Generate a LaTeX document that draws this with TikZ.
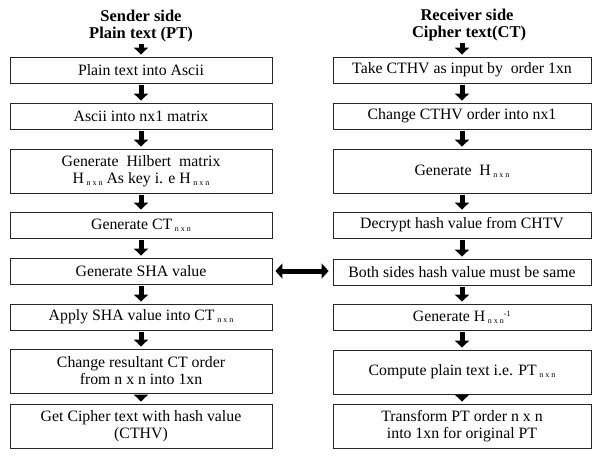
\documentclass[tikz,border=0pt]{standalone}
\usepackage{fontspec}
\setmainfont{Liberation Serif}
\usetikzlibrary{arrows.meta}
\newcommand{\nxn}{\,\raisebox{-0.25ex}{\fontsize{8}{9}\selectfont n x n}}
\tikzset{
  procbox/.style={draw=black!85, line width=0.8pt, minimum height=26pt, align=center,
    inner sep=0pt, font=\fontsize{15.8}{17}\selectfont},
  lbox/.style={procbox, minimum width=262pt},
  rbox/.style={procbox, minimum width=258pt},
  headtext/.style={align=center, font=\fontsize{16.5}{17}\selectfont\bfseries, inner sep=0pt},
  fatarrow/.style={line width=5pt, -{Triangle[length=7pt,width=14pt]}, shorten <=2pt, shorten >=2pt}
}
\begin{document}
\begin{tikzpicture}[x=1pt,y=-1pt]
\useasboundingbox (0,0) rectangle (593,459);
% sender side
\node [headtext] (senderhd) at (141,26) {Sender side\\Plain text (PT)};
\node [lbox] (s1) at (141,70) {Plain text into Ascii};
\node [lbox] (s2) at (141,116) {Ascii into nx1 matrix};
\node [lbox, minimum height=44pt] (s3) at (141,171) {Generate\ \ Hilbert\ \ matrix\\H\nxn\ As key i. e H\nxn};
\node [lbox] (s4) at (141,225) {Generate CT\nxn};
\node [lbox] (s5) at (141,271) {Generate SHA value};
\node [lbox] (s6) at (141,317) {Apply SHA value into CT\nxn};
\node [lbox, minimum height=44pt] (s7) at (141,371) {Change resultant CT order\\ from n x n into 1xn};
\node [lbox, minimum height=44pt] (s8) at (141,426) {Get Cipher text with hash value\\(CTHV)};
% receiver side
\node [headtext] (receiverhd) at (467,25) {Receiver side\\\ Cipher text(CT)};
\node [rbox] (r1) at (462,70) {Take CTHV as input by\ \ order 1xn};
\node [rbox] (r2) at (462,116) {Change CTHV order into nx1};
\node [rbox, minimum height=44pt] (r3) at (462,171) {Generate\ \ H\nxn};
\node [rbox] (r4) at (462,225) {Decrypt hash value from CHTV};
\node [rbox] (r5) at (462,272) {Both sides hash value must be same};
\node [rbox] (r6) at (462,317) {Generate H\nxn\textsuperscript{\fontsize{8}{9}\selectfont -1}};
\node [rbox, minimum height=44pt] (r7) at (462,372) {Compute plain text i.e. PT\nxn};
\node [rbox, minimum height=44pt] (r8) at (462,426) {Transform PT order n x n\\into 1xn for original PT};
% arrows
\draw [fatarrow] (senderhd.south) -- (s1.north);
\draw [fatarrow] (receiverhd.south -| r1.north) -- (r1.north);
\foreach \a/\b in {1/2,2/3,3/4,4/5,5/6,6/7,7/8} {
  \draw [fatarrow] (s\a.south) -- (s\b.north);
  \draw [fatarrow] (r\a.south) -- (r\b.north);
}
\draw [line width=5pt, {Triangle[length=7pt,width=15pt]}-{Triangle[length=7pt,width=15pt]},
  shorten <=3pt, shorten >=4pt] (s5.east) -- (s5.east -| r5.west);
\end{tikzpicture}
\end{document}
